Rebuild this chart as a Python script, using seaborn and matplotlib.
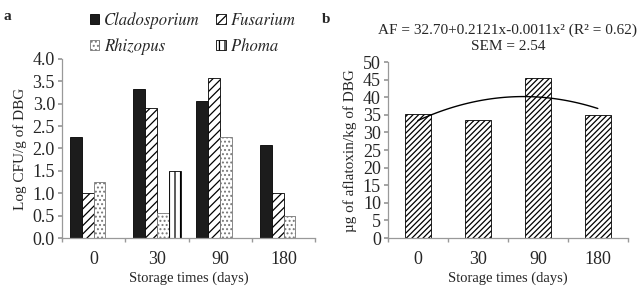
import numpy as np
import pandas as pd
import seaborn as sns
import matplotlib.pyplot as plt
from matplotlib.ticker import FormatStrFormatter, FixedLocator
from matplotlib.font_manager import FontProperties

# storage times and fungal counts (panel a)
days = ["0", "30", "90", "180"]
fungi = ["Cladosporium", "Fusarium", "Rhizopus", "Phoma"]
cladosporium = [2.25, 3.33, 3.07, 2.07]
fusarium = [1.0, 2.9, 3.58, 1.0]
rhizopus = [1.25, 0.57, 2.25, 0.5]
phoma = [0.0, 1.5, 0.0, 0.0]

# aflatoxin (panel b)
aflatoxin = [35.2, 33.5, 45.5, 35.0]

sns.set_theme(style="white")
plt.rcParams["font.family"] = ["Liberation Serif", "DejaVu Serif"]
plt.rcParams["hatch.linewidth"] = 0.9

df_a = pd.DataFrame({
    "day": days * 4,
    "fungus": np.repeat(fungi, 4),
    "value": cladosporium + fusarium + rhizopus + phoma,
})
df_b = pd.DataFrame({"day": days, "value": aflatoxin})

fig = plt.figure(figsize=(6.38, 2.9), dpi=100)
ax1 = fig.add_axes([0.097, 0.179, 0.397, 0.618])
ax2 = fig.add_axes([0.608, 0.179, 0.376, 0.607])

# panel a: grouped bars
sns.barplot(data=df_a, x="day", y="value", hue="fungus", order=days,
            hue_order=fungi, width=0.75, ax=ax1, legend=False,
            edgecolor="black", linewidth=0.6)
styles = [("#1c1c1c", ""), ("white", "////"), ("white", "...."), ("white", "|||")]
for cont, (fc, h) in zip(ax1.containers, styles):
    for bar in cont:
        bar.set_facecolor(fc)
        bar.set_hatch(h)
        bar.set_edgecolor("black" if h != "...." else "#777777")

# legend filled row by row: Clado, Fusarium / Rhizopus, Phoma
# STIXGeneral ships with matplotlib and has a Times-like italic
order = [0, 2, 1, 3]
handles = [ax1.containers[i][1] for i in order]
labels = [fungi[i] for i in order]
leg_font = FontProperties(family="STIXGeneral", style="italic", size=12)
fig.legend(handles, labels, loc="upper left", bbox_to_anchor=(0.128, 0.988),
           ncol=2, frameon=False, prop=leg_font, borderpad=0,
           handlelength=0.55, handleheight=0.55, handletextpad=0.3,
           columnspacing=1.0, labelspacing=0.55)

ax1.set_ylim(0, 4)
ax1.yaxis.set_major_locator(FixedLocator(np.arange(0, 4.01, 0.5)))
ax1.yaxis.set_major_formatter(FormatStrFormatter("%.1f"))
ax1.set_ylabel("Log CFU/g of DBG", fontsize=11)

# panel b: aflatoxin bars with quadratic trend
sns.barplot(data=df_b, x="day", y="value", order=days, width=0.43, ax=ax2,
            color="white", edgecolor="black", linewidth=0.6)
for bar in ax2.patches:
    bar.set_hatch("//////")
idx = np.arange(len(days))
coef = np.polyfit(idx, aflatoxin, 2)
xs = np.linspace(0, 3, 100)
ax2.plot(xs, np.polyval(coef, xs), color="black", lw=1)
ax2.set_ylim(0, 50)
ax2.yaxis.set_major_locator(FixedLocator(np.arange(0, 51, 5)))
ax2.set_ylabel("µg of aflatoxin/kg of DBG", fontsize=11)
ax2.set_title("AF = 32.70+0.2121x-0.0011x² (R² = 0.62)\nSEM = 2.54",
              fontsize=11, linespacing=1.3, pad=9)

for ax in (ax1, ax2):
    ax.set_xlim(-0.5, 3.5)
    ax.set_xlabel("Storage times (days)", fontsize=10.5, labelpad=3)
    for s in ("top", "right"):
        ax.spines[s].set_visible(False)
    for s in ("left", "bottom"):
        ax.spines[s].set_color("#999999")
        ax.spines[s].set_linewidth(0.9)
    ax.xaxis.set_minor_locator(FixedLocator([-0.5, 0.5, 1.5, 2.5, 3.5]))
    ax.tick_params(axis="x", which="major", length=0, labelsize=13, pad=9)
    ax.tick_params(axis="x", which="minor", length=3, color="#999999",
                   direction="out", bottom=True)
    ax.tick_params(axis="y", length=3, color="#999999", labelsize=13,
                   direction="out", left=True, pad=2)

fig.text(0.005, 0.965, "a", fontsize=11, fontweight="bold", va="top")
fig.text(0.505, 0.955, "b", fontsize=11, fontweight="bold", va="top")

fig.savefig("out.png", dpi=100)
